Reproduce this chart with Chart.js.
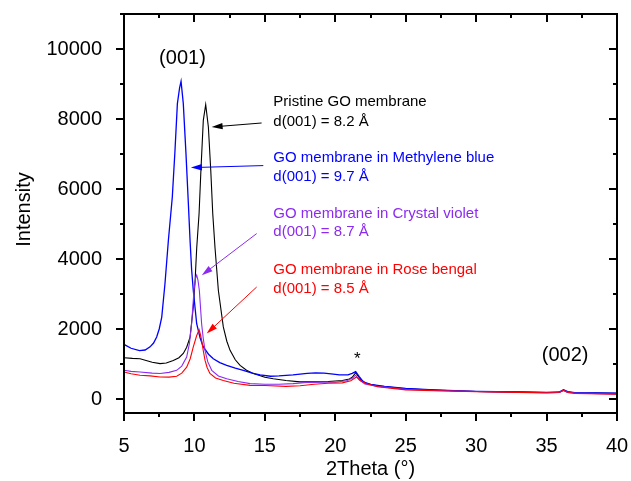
<!DOCTYPE html>
<html>
<head>
<meta charset="utf-8">
<script src="https://cdn.jsdelivr.net/npm/chart.js@4.4.1/dist/chart.umd.min.js"></script>
<style>
html,body{margin:0;padding:0;background:#fff;}
canvas{display:block;}
</style>
</head>
<body>
<canvas id="c" width="631" height="481"></canvas>
<script>
// ---- data (2Theta in degrees, intensity) ----
const xTicks = [5, 10, 15, 20, 25, 30, 35, 40];
const yTicks = [0, 2000, 4000, 6000, 8000, 10000];

const pristine = [
 [5,1180],[5.6,1160],[6.14,1150],[7,1050],[7.56,1010],[8,1030],[8.5,1100],[8.9,1180],[9.21,1300],
 [9.45,1480],[9.69,1770],[9.92,2630],[10.05,3400],[10.16,4300],[10.33,5300],[10.46,6530],[10.63,7960],
 [10.8,8410],[10.99,7770],[11.16,6530],[11.3,5300],[11.46,4330],[11.7,3100],[12.05,2060],[12.3,1650],
 [12.53,1390],[12.9,1120],[13.24,960],[13.7,820],[14.18,730],[15,620],[15.6,580],[16.5,530],[17.5,490],
 [18.5,490],[19.5,500],[20.5,530],[21,570],[21.2,620],[21.45,750],[21.65,640],[21.8,560],[22.2,440],
 [23,380],[25,290],[27,255],[30,215],[33,200],[35,185],[35.9,195],[36.2,255],[36.5,200],[37,180],[40,160]
];
const methyleneBlue = [
 [5,1560],[5.5,1450],[6.1,1380],[6.5,1400],[6.85,1490],[7.1,1600],[7.32,1770],[7.5,2000],[7.68,2340],
 [7.91,3300],[8.15,4530],[8.43,5770],[8.62,7100],[8.79,8440],[8.95,8900],[9.05,9080],[9.21,8440],
 [9.4,7010],[9.57,5580],[9.69,4530],[9.8,3700],[9.92,3100],[10.16,2150],[10.4,1750],[10.63,1490],
 [11,1280],[11.34,1150],[11.8,1040],[12.29,960],[12.9,880],[13.47,820],[14.1,740],[14.66,690],[15.4,650],
 [16,660],[17,690],[18,730],[18.6,745],[19.2,740],[19.7,720],[20.3,690],[20.9,690],[21.2,730],[21.45,780],
 [21.7,640],[22,490],[22.5,420],[23.5,360],[25,300],[27,260],[30,220],[33,200],[35,190],[35.9,200],
 [36.2,265],[36.5,210],[37,185],[40,170]
];
const crystalViolet = [
 [5,820],[5.5,790],[6.14,770],[7,740],[7.56,730],[8.2,760],[8.74,820],[9.1,940],[9.45,1200],[9.65,1600],
 [9.8,2150],[9.97,3100],[10.08,3450],[10.16,3540],[10.25,3400],[10.35,3100],[10.51,2150],[10.62,1750],
 [10.75,1390],[10.95,1060],[11.23,820],[11.7,660],[12.29,580],[13.1,500],[13.95,440],[15,420],[16,420],
 [17,440],[18,470],[19,480],[20,480],[20.8,520],[21.2,590],[21.45,680],[21.7,550],[22.1,430],[23,360],
 [25,280],[27,245],[30,215],[33,195],[35,180],[35.9,190],[36.2,250],[36.5,190],[37,170],[40,140]
];
const roseBengal = [
 [5,770],[5.5,720],[6.14,680],[6.85,660],[7.56,630],[8.2,625],[8.74,650],[9.1,740],[9.45,910],[9.7,1150],
 [9.92,1490],[10.15,1800],[10.33,1980],[10.42,1850],[10.51,1680],[10.62,1400],[10.75,1110],[10.9,900],
 [11.1,730],[11.5,600],[12.05,530],[12.8,450],[13.95,390],[15,385],[16.5,360],[17.5,380],[18.5,420],
 [19.5,450],[20.5,460],[21.1,520],[21.5,630],[21.8,520],[22.2,440],[23,350],[25,260],[27,235],[30,210],
 [33,190],[35,175],[35.9,185],[36.2,245],[36.5,185],[37,160],[40,140]
];

const seriesNames = ['Pristine GO membrane','GO membrane in Methylene blue','GO membrane in Crystal violet','GO membrane in Rose bengal'];
const seriesColors = ['#000000','#0000ff','#8c2bf0','#ff0000'];
const dLabels = ['d(001) = 8.2 Å','d(001) = 9.7 Å','d(001) = 8.7 Å','d(001) = 8.5 Å'];
// annotation anchors in data units: [x, y of name line, y of d line]
const labelPos = [[15.6,8486,7914],[15.6,6897,6343],[15.6,5297,4771],[15.6,3697,3154]];
// arrows in data units: [tailX, tailY, headX, headY]
const arrows = [[14.77,7886,11.22,7771],[14.89,6669,9.75,6611],[14.42,4726,10.52,3534],[14.42,3200,10.87,1869]];
const peakLabels = [['(001)',9.15,9726,20],['(002)',36.32,1249,20],['*',21.57,1134,17]];

const FONT = '"Liberation Sans", Arial, sans-serif';
const toXY = a => a.map(p => ({x:p[0], y:p[1]}));
const allSeries = [pristine, methyleneBlue, crystalViolet, roseBengal];

const frame = {
  id:'frame',
  afterDatasetsDraw(chart){
    const ctx = chart.ctx, a = chart.chartArea, xs = chart.scales.x, ys = chart.scales.y;
    ctx.save();
    ctx.strokeStyle = '#000'; ctx.lineWidth = 2; ctx.lineCap='butt';
    ctx.strokeRect(a.left, a.top, a.right-a.left, a.bottom-a.top);
    // x ticks
    for (let v = 5; v <= 40; v += 2.5){
      const major = Math.abs(v % 5) < 1e-9;
      const L = major ? 8 : 4;
      const px = Math.round(xs.getPixelForValue(v));
      ctx.beginPath();
      ctx.moveTo(px, a.bottom); ctx.lineTo(px, a.bottom + L);
      ctx.moveTo(px, a.top); ctx.lineTo(px, a.top + L);
      ctx.stroke();
    }
    for (let v = 0; v <= 11000; v += 1000){
      const major = v % 2000 === 0;
      const L = major ? 8 : 4;
      const py = Math.round(ys.getPixelForValue(v));
      ctx.beginPath();
      ctx.moveTo(a.left, py); ctx.lineTo(a.left - L, py);
      ctx.moveTo(a.right, py); ctx.lineTo(a.right - L, py);
      ctx.stroke();
    }
    // axis titles
    ctx.fillStyle = '#000';
    ctx.font = '20px ' + FONT;
    ctx.textAlign = 'center'; ctx.textBaseline = 'middle';
    ctx.fillText('2Theta (°)', (a.left + a.right)/2, 469);
    ctx.save();
    ctx.translate(24, (a.top + a.bottom)/2 - 4);
    ctx.rotate(-Math.PI/2);
    ctx.fillText('Intensity', 0, 0);
    ctx.restore();
    // peak labels
    peakLabels.forEach(p => {
      ctx.font = p[3] + 'px ' + FONT;
      ctx.fillText(p[0], xs.getPixelForValue(p[1]), ys.getPixelForValue(p[2]));
    });
    // series labels
    ctx.textAlign = 'left';
    ctx.font = '15px ' + FONT;
    seriesNames.forEach((n, i) => {
      ctx.fillStyle = seriesColors[i];
      const x = xs.getPixelForValue(labelPos[i][0]);
      ctx.fillText(n, x, ys.getPixelForValue(labelPos[i][1]));
      ctx.fillText(dLabels[i], x, ys.getPixelForValue(labelPos[i][2]));
    });
    // arrows
    arrows.forEach((r, i) => {
      const x1 = xs.getPixelForValue(r[0]), y1 = ys.getPixelForValue(r[1]);
      const x2 = xs.getPixelForValue(r[2]), y2 = ys.getPixelForValue(r[3]);
      const ang = Math.atan2(y2 - y1, x2 - x1);
      const HL = 11, HW = 3.2;
      ctx.strokeStyle = seriesColors[i]; ctx.fillStyle = seriesColors[i];
      ctx.lineWidth = 1;
      ctx.beginPath();
      ctx.moveTo(x1, y1);
      ctx.lineTo(x2 - HL*0.8*Math.cos(ang), y2 - HL*0.8*Math.sin(ang));
      ctx.stroke();
      const bx = x2 - HL*Math.cos(ang), by = y2 - HL*Math.sin(ang);
      ctx.beginPath();
      ctx.moveTo(x2, y2);
      ctx.lineTo(bx + HW*Math.sin(ang), by - HW*Math.cos(ang));
      ctx.lineTo(bx - HW*Math.sin(ang), by + HW*Math.cos(ang));
      ctx.closePath();
      ctx.fill();
    });
    ctx.restore();
  }
};

new Chart(document.getElementById('c'), {
  type: 'line',
  data: {
    datasets: allSeries.map((s, i) => ({
      label: seriesNames[i],
      data: toXY(s),
      borderColor: seriesColors[i],
      borderWidth: i === 1 ? 1.3 : 1.1,
      pointRadius: 0,
      tension: 0,
      fill: false,
      order: 4 - i
    }))
  },
  options: {
    responsive: false,
    devicePixelRatio: 1,
    animation: false,
    layout: { padding: { left: 0, right: 14, top: 14, bottom: 0 } },
    plugins: { legend: { display: false }, tooltip: { enabled: false } },
    scales: {
      x: {
        type: 'linear', min: 5, max: 40,
        afterBuildTicks: s => { s.ticks = xTicks.map(v => ({ value: v })); },
        afterFit: s => { s.height = 68; s.paddingLeft = 0; s.paddingRight = 0; },
        grid: { display: false }, border: { display: false },
        ticks: { font: { size: 20, family: FONT }, color: '#000', padding: 13, maxRotation: 0, autoSkip: false,
                 callback: v => String(v) }
      },
      y: {
        type: 'linear', min: -400, max: 11000,
        afterBuildTicks: s => { s.ticks = yTicks.map(v => ({ value: v })); },
        afterFit: s => { s.width = 124; s.paddingTop = 0; s.paddingBottom = 0; },
        grid: { display: false }, border: { display: false },
        ticks: { font: { size: 20, family: FONT }, color: '#000', padding: 14, autoSkip: false,
                 callback: v => String(v) }
      }
    }
  },
  plugins: [frame]
});
</script>
</body>
</html>
